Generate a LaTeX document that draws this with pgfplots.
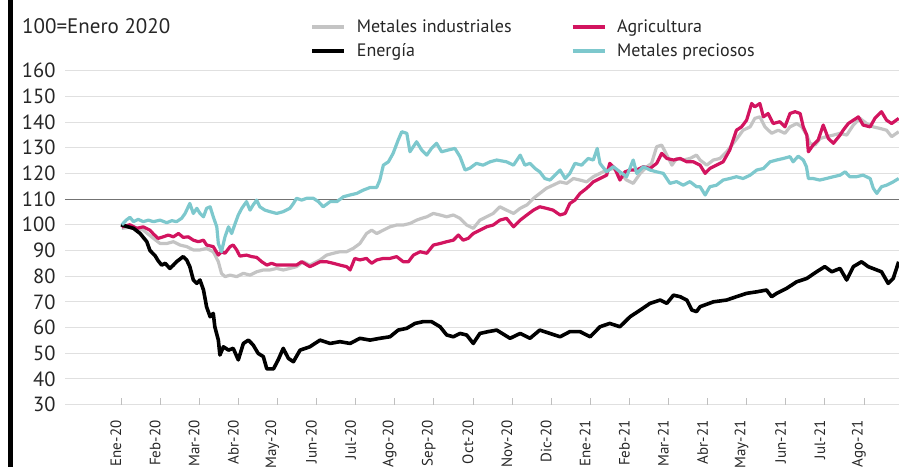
\documentclass[border=0pt]{standalone}
\usepackage{pgfplots}
\pgfplotsset{compat=1.18}
\usepackage{fontspec}
\setmainfont{PT Sans}
\definecolor{agri}{RGB}{210,20,95}
\definecolor{prec}{RGB}{125,200,205}
\definecolor{indu}{RGB}{196,196,196}
\begin{document}
\begin{tikzpicture}
\begin{axis}[
 at={(65pt,62.4pt)}, anchor=south west,
 width=834pt, height=334pt, scale only axis,
 xmin=-1.432, xmax=19.898, ymin=30, ymax=160,
 axis line style={draw=none},
 ytick={30,40,...,160},
 ymajorgrids, grid style={color=black!12, line width=0.9pt},
 xtick={0,...,19},
 xticklabels={Ene-20,Feb-20,Mar-20,Abr-20,May-20,Jun-20,Jul-20,Ago-20,Sep-20,Oct-20,Nov-20,Dic-20,Ene-21,Feb-21,Mar-21,Abr-21,May-21,Jun-21,Jul-21,Ago-21},
 xtick pos=bottom, ytick pos=left,
 ytick style={draw=none},
 xtick style={color=black!25, line width=0.7pt},
 tick align=inside, major tick length=7pt,
 xticklabel shift=12.5pt,
 xticklabel style={rotate=90, anchor=east, font=\fontsize{15}{17}\selectfont, text=black!85, yshift=5pt},
 yticklabel style={font=\fontsize{20.5}{24}\selectfont, xshift=-6pt, text=black!85},
 /pgf/number format/assume math mode=true,
 extra y ticks={110}, extra y tick labels={},
 extra y tick style={grid style={color=black!55, line width=1.1pt}},
 legend columns=2,
 legend style={at={(0.29,1.165)}, anchor=north west, draw=none, fill=none,
   font=\fontsize{18}{21}\selectfont, text=black!85, row sep=6pt,
   /tikz/every even column/.append style={column sep=57pt}},
 legend cell align=left,
 legend image code/.code={\draw[#1, line width=4pt] (0pt,0pt) -- (32pt,0pt); \path (41pt,0pt);},
 line join=round,
]
\addplot[indu, line width=3.2pt] table {
0.02 98.6
0.32 99.2
0.57 97.9
0.83 94.7
1.00 92.7
1.17 92.7
1.34 93.4
1.51 92.1
1.68 91.5
1.85 90.2
2.02 90.2
2.19 90.8
2.36 89.5
2.49 85.6
2.57 81.1
2.66 79.8
2.79 80.4
2.96 79.8
3.13 81.1
3.30 80.4
3.47 81.7
3.64 82.4
3.81 82.4
3.98 83
4.15 82.4
4.32 83
4.49 83.7
4.66 85.6
4.83 84.3
4.92 85
5.09 86.3
5.26 88.2
5.43 88.9
5.60 89.5
5.77 89.5
5.94 90.8
6.11 92.7
6.28 96.6
6.41 97.9
6.54 96.6
6.71 97.9
6.88 99.2
7.05 99.9
7.22 99.9
7.39 100.5
7.56 101.8
7.69 102.5
7.82 103.1
7.99 104.4
8.16 103.8
8.33 103.1
8.50 103.8
8.67 102.5
8.84 99.9
9.01 98.6
9.18 101.8
9.35 103.1
9.52 104.4
9.69 107
9.86 105.7
10.04 104.4
10.21 106.4
10.38 107.7
10.55 110.3
10.71 112.2
10.88 114.2
11.05 115.4
11.23 116.7
11.40 116.1
11.57 118
11.74 117.4
11.91 116.7
12.08 118.7
12.25 120
12.42 121.3
12.59 121.9
12.76 120
12.93 117.4
13.10 116.1
13.28 120
13.45 122.6
13.57 123.9
13.70 130.4
13.83 131
13.96 127.1
14.09 123.2
14.21 125.8
14.38 125.2
14.55 125.8
14.72 127.1
14.81 125.2
14.98 123.2
15.15 125.2
15.32 125.8
15.49 128.4
15.66 131.7
15.79 134.3
15.91 136.8
16.09 138.1
16.21 141.4
16.34 142
16.47 138.1
16.64 135.6
16.81 136.8
16.98 135.6
17.11 138.1
17.28 139.4
17.41 138.1
17.54 134.9
17.62 131.7
17.75 131
17.88 133.6
18.05 134.3
18.22 134.9
18.39 135.6
18.56 134.9
18.73 138.8
18.90 141.4
19.07 139.4
19.24 138.1
19.41 137.5
19.58 136.8
19.71 134.3
19.89 136.2
};
\addlegendentry{Metales industriales}
\addplot[agri, line width=3.2pt] table {
0.02 99.2
0.23 100
0.40 98.6
0.57 99.2
0.74 97.9
0.83 96.4
0.95 94.7
1.08 95.3
1.21 96
1.34 95.3
1.47 96.6
1.59 95.1
1.72 95.3
1.85 94
1.98 93.4
2.11 94
2.19 92.1
2.36 91.5
2.49 88.2
2.57 89.5
2.66 88.9
2.79 91.5
2.87 92.1
2.96 90.2
3.04 87.8
3.21 88.2
3.34 87.6
3.47 87.3
3.60 85.6
3.73 84.3
3.85 85
3.98 84.3
4.15 84.3
4.32 84.3
4.49 84.3
4.62 85.6
4.83 83.7
4.92 84.3
5.09 85.6
5.26 85.6
5.43 85
5.60 84.3
5.77 83.7
5.86 82.4
5.98 86.9
6.11 86.3
6.28 86.9
6.41 85
6.54 86.3
6.71 86.9
6.88 86.9
7.05 87.6
7.22 85.6
7.35 85.6
7.48 88.2
7.65 89.5
7.82 88.9
7.99 92.1
8.16 92.7
8.33 93.4
8.50 94
8.63 96
8.75 94
8.88 94.7
9.01 96.6
9.18 97.9
9.35 99.2
9.52 99.9
9.69 101.8
9.86 102.5
10.04 99.2
10.21 101.8
10.38 103.8
10.55 105.7
10.71 107
10.88 106.4
11.05 105.7
11.23 103.8
11.36 104.4
11.48 108.3
11.61 109.6
11.74 112.2
11.91 114.2
12.08 116.7
12.25 118
12.42 119.3
12.50 123.9
12.63 121.9
12.76 117.4
12.89 120.6
13.02 121.3
13.19 121.3
13.36 122.6
13.53 121.9
13.70 123.9
13.83 127.8
13.96 125.8
14.13 125.2
14.30 125.8
14.47 124.5
14.64 124.5
14.81 123.2
14.94 120
15.06 121.9
15.23 123.2
15.40 124.5
15.57 129.1
15.74 136.8
15.87 138.1
16.00 140.7
16.13 147.2
16.21 145.9
16.34 147.2
16.43 142
16.55 143.3
16.68 139.4
16.85 140.1
16.98 138.1
17.11 143.3
17.24 144
17.37 143.3
17.45 138.1
17.54 134.9
17.58 128.4
17.70 131
17.83 133
17.96 138.8
18.09 133.6
18.22 131.7
18.39 134.9
18.47 136.8
18.60 139.4
18.73 140.7
18.86 142
18.98 138.8
19.16 138.1
19.28 141.4
19.45 144
19.58 140.7
19.71 139.4
19.89 141.4
};
\addlegendentry{Agricultura}
\addplot[black, line width=3.6pt] table {
0.00 100
0.32 98.6
0.49 96.6
0.66 93.4
0.74 90
0.87 88
0.95 86
1.04 84.3
1.13 85
1.25 83
1.34 84.3
1.42 85.6
1.59 87.6
1.68 86.3
1.76 83.7
1.85 78.5
1.94 77.2
2.02 78.5
2.11 74.6
2.19 68
2.28 64.2
2.36 65.5
2.40 60.3
2.49 55.1
2.53 49.3
2.62 52.5
2.75 51.2
2.87 51.9
3.00 47.4
3.13 53.8
3.26 55.1
3.38 53.2
3.51 49.9
3.64 48.7
3.73 43.9
3.90 43.9
4.02 47.4
4.15 51.9
4.28 48.0
4.41 46.7
4.58 51.2
4.83 52.5
5.09 55.1
5.35 53.8
5.60 54.5
5.86 53.8
6.11 55.8
6.37 55.1
6.62 55.8
6.88 56.4
7.09 59
7.31 59.7
7.52 61.6
7.73 62.3
7.94 62.3
8.16 60.3
8.33 57.1
8.50 56.4
8.67 57.7
8.84 57.1
9.01 53.8
9.18 57.7
9.39 58.4
9.61 59
9.95 55.8
10.21 57.7
10.46 55.8
10.71 59
10.97 57.7
11.23 56.4
11.48 58.4
11.74 58.4
12.00 56.4
12.25 60.3
12.50 61.6
12.76 60.3
13.02 64.2
13.28 66.8
13.53 69.4
13.79 70.7
13.96 69.4
14.13 72.6
14.30 72
14.47 70.7
14.60 66.8
14.72 66.2
14.81 68.1
15.15 70
15.49 70.7
15.74 72
16.00 73.3
16.26 73.9
16.51 74.6
16.64 72
16.77 73.3
17.02 75.2
17.28 77.8
17.54 79.1
17.79 81.7
18.00 83.7
18.18 81.7
18.39 83
18.56 78.5
18.73 83.7
18.94 85.6
19.11 83.7
19.33 82.4
19.45 81.7
19.62 77.2
19.75 79.1
19.89 85.6
};
\addlegendentry{Energía}
\addplot[prec, line width=3.2pt] table {
0.02 100
0.15 102
0.23 102.9
0.32 101.2
0.44 102.1
0.57 101.2
0.70 101.8
0.83 101.2
1.00 101.8
1.17 100.8
1.30 101.6
1.42 101.2
1.55 102.5
1.64 104.4
1.76 108.3
1.85 104.4
1.94 106.4
2.02 104.4
2.11 103.1
2.19 106.4
2.28 107
2.36 103.1
2.45 99.2
2.49 92.7
2.57 89.5
2.66 95.3
2.75 99.2
2.83 96.6
2.92 100.5
3.00 103.8
3.09 106.4
3.21 109
3.30 105.7
3.38 107.7
3.47 109.6
3.55 107
3.68 105.7
3.81 105.1
3.98 104.4
4.15 105.1
4.32 106.4
4.41 108.3
4.49 110.3
4.62 109.6
4.75 110.3
4.92 110.3
5.05 109
5.17 107
5.35 109
5.52 109
5.69 110.9
5.86 111.6
6.03 112.2
6.20 113.5
6.37 114.5
6.54 114.5
6.62 117.4
6.71 123.2
6.84 124.5
6.96 127.8
7.09 133
7.18 136.2
7.31 135.6
7.39 128.4
7.56 132.3
7.69 129.1
7.82 127.1
7.94 129.7
8.07 131.7
8.20 128.4
8.37 129.1
8.54 129.7
8.67 126.5
8.80 121.3
8.92 122
9.09 123.9
9.26 123.2
9.44 124.5
9.61 125.2
9.86 124.5
10.04 123.2
10.21 127.1
10.33 123.2
10.46 123.9
10.59 121.9
10.71 120.6
10.84 118
10.97 117.4
11.10 119.3
11.23 121.3
11.36 118
11.48 120
11.61 123.9
11.78 123.2
11.95 125.8
12.08 125.2
12.18 129.7
12.25 123.9
12.42 120.6
12.59 122.6
12.76 120.6
12.93 118.7
13.10 125.2
13.19 120
13.36 122.6
13.53 121.3
13.70 120.6
13.87 120
14.04 116.1
14.21 116.8
14.38 115.4
14.55 116.8
14.72 114.8
14.81 114.8
14.94 111.6
15.06 114.8
15.23 115.4
15.40 117.4
15.57 118
15.74 118.7
15.91 118
16.09 119.3
16.26 121.3
16.43 121.9
16.60 124.5
16.77 125.2
16.94 125.8
17.11 126.5
17.19 124.5
17.32 126.7
17.45 125.2
17.53 122.6
17.58 118
17.70 118
17.87 117.4
18.04 118
18.22 118.7
18.39 119.3
18.52 120.6
18.64 118.7
18.81 118.7
18.98 119.3
19.16 118
19.24 114.2
19.33 112.2
19.45 114.8
19.58 115.4
19.75 116.7
19.89 118
};
\addlegendentry{Metales preciosos}
\end{axis}
\fill[black] (8pt,0pt) rectangle (13pt,467pt);
\node[anchor=base west, font=\fontsize{21}{23}\selectfont, text=black!85, inner sep=0pt] at (22pt,433pt) {100=Enero 2020};
\pgfresetboundingbox
\useasboundingbox (0pt,0pt) rectangle (899pt,467pt);
\end{tikzpicture}
\end{document}
